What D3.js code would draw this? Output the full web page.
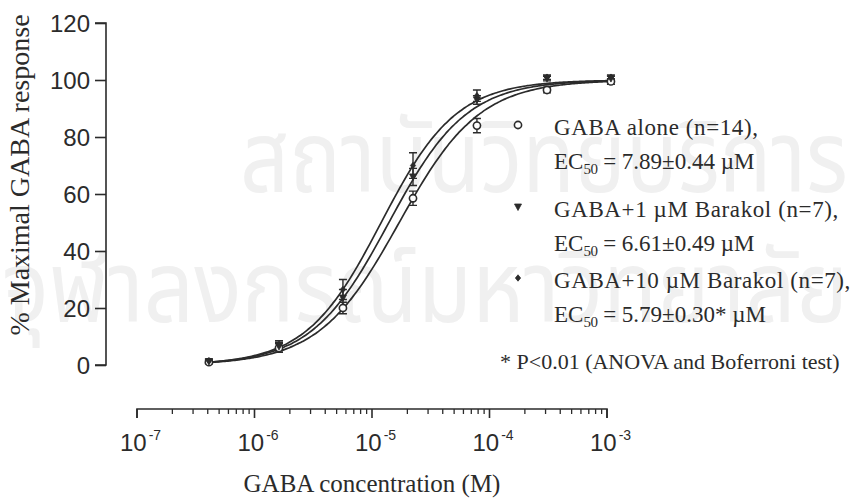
<!DOCTYPE html>
<html>
<head>
<meta charset="utf-8">
<script src="https://cdn.jsdelivr.net/npm/d3@7"></script>
<style>
  html, body { margin: 0; padding: 0; background: #ffffff; }
  svg { display: block; }
</style>
</head>
<body>
<svg id="chart" width="853" height="499"></svg>
<script>
// GABA concentrations tested (M)
const concentrations = [3e-7, 1e-6, 3e-6, 1e-5, 3e-5, 1e-4, 3e-4];

// Mean % maximal GABA response and SEM for each group
const gabaAlone      = [1.0, 6.0, 20.0, 58.5, 84.0, 96.5, 99.5];
const gabaAloneSem   = [0.6, 1.5, 2.0, 2.5, 2.5, 1.0, 1.0];
const barakol1       = [1.2, 6.5, 23.5, 66.0, 93.0, 100.5, 100.5];
const barakol1Sem    = [0.6, 1.5, 3.0, 3.0, 1.5, 0.8, 0.8];
const barakol10      = [1.5, 7.0, 26.5, 70.0, 94.5, 101.0, 101.0];
const barakol10Sem   = [0.6, 1.5, 3.5, 4.5, 2.0, 0.8, 0.8];

// Fitted concentration-response parameters (EC50 in µM)
const ec50Values  = [7.89, 6.61, 5.79];
const hillSlopes  = [1.45, 1.50, 1.55];

// Axis ticks
const yTicks = [0, 20, 40, 60, 80, 100, 120];
const xTickExponents = [-7, -6, -5, -4, -3];

// Legend entries
const legendNames = ["GABA alone (n=14),", "GABA+1 µM Barakol (n=7),", "GABA+10 µM Barakol (n=7),"];
const legendEc50  = ["7.89±0.44 µM", "6.61±0.49 µM", "5.79±0.30* µM"];
const footnote = "* P<0.01 (ANOVA and Boferroni test)";

const ink = "#2b2b2b";
const serif = "'Liberation Serif', 'Times New Roman', serif";
const sans = "'Liberation Sans', Arial, sans-serif";

const svg = d3.select("#chart");

// faint background lettering
const wm = svg.append("g").attr("fill", "#f0f0f0").attr("font-family", "'Noto Sans Thai', 'Noto Sans', sans-serif");
wm.append("text").attr("x", 240).attr("y", 192).attr("font-size", 100)
  .attr("textLength", 608).attr("lengthAdjust", "spacingAndGlyphs").text("สถาบันวิทยบริการ");
wm.append("text").attr("x", 2).attr("y", 322).attr("font-size", 100)
  .attr("textLength", 846).attr("lengthAdjust", "spacingAndGlyphs").text("จุฬาลงกรณ์มหาวิทยาลัย");

// Scales
const y = d3.scaleLinear().domain([0, 120]).range([365, 23]);
const xData = d3.scaleLog().domain([1e-7, 1e-3]).range([145, 681]);
const xAxisScale = d3.scaleLog().domain([1e-7, 1e-3]).range([137, 607]);

// Y axis
const yAxis = d3.axisLeft(y).tickValues(yTicks).tickSize(11).tickPadding(5).tickFormat(d3.format("d"));
const gy = svg.append("g").attr("transform", "translate(106,0)").call(yAxis);
gy.select(".domain").attr("stroke", ink).attr("stroke-width", 1.6).attr("d", `M-11,${y(120)}H0V${y(0)}H-11`);
gy.selectAll(".tick line").attr("stroke", ink).attr("stroke-width", 1.6);
gy.selectAll(".tick text").attr("fill", ink).attr("font-family", sans).attr("font-size", 24).attr("dy", "0.36em");

// X axis (log, with minor ticks)
const minorTicks = [];
for (let e = -7; e < -3; e++) for (let m = 2; m <= 9; m++) minorTicks.push(m * Math.pow(10, e));
const gx = svg.append("g").attr("transform", "translate(0,409)");
gx.append("path")
  .attr("d", `M${xAxisScale(1e-7)},9V0H${xAxisScale(1e-3)}V9`)
  .attr("fill", "none").attr("stroke", ink).attr("stroke-width", 1.6);
gx.selectAll("line.minor").data(minorTicks).join("line").attr("class", "minor")
  .attr("x1", d => xAxisScale(d)).attr("x2", d => xAxisScale(d))
  .attr("y1", 0).attr("y2", 5).attr("stroke", ink).attr("stroke-width", 1.3);
gx.selectAll("line.major").data(xTickExponents).join("line").attr("class", "major")
  .attr("x1", d => xAxisScale(Math.pow(10, d))).attr("x2", d => xAxisScale(Math.pow(10, d)))
  .attr("y1", 0).attr("y2", 9).attr("stroke", ink).attr("stroke-width", 1.6);
const xl = gx.selectAll("text.tick").data(xTickExponents).join("text").attr("class", "tick")
  .attr("x", d => xAxisScale(Math.pow(10, d)) - 17).attr("y", 42)
  .attr("fill", ink).attr("font-family", sans).attr("font-size", 24);
xl.append("tspan").text("10");
xl.append("tspan").attr("dy", -11).attr("dx", 2).attr("font-size", 14).text(d => d);

// Axis titles
svg.append("text").attr("x", 372).attr("y", 492).attr("text-anchor", "middle")
  .attr("font-family", serif).attr("font-size", 25).attr("fill", ink).text("GABA concentration (M)");
svg.append("text").attr("transform", "translate(29,175) rotate(-90)").attr("text-anchor", "middle")
  .attr("font-family", serif).attr("font-size", 28).attr("fill", ink).text("% Maximal GABA response");

// Fitted curves
const groups = [
  { values: gabaAlone, sem: gabaAloneSem, ec50: ec50Values[0], hill: hillSlopes[0], marker: "circle" },
  { values: barakol1, sem: barakol1Sem, ec50: ec50Values[1], hill: hillSlopes[1], marker: "triangle" },
  { values: barakol10, sem: barakol10Sem, ec50: ec50Values[2], hill: hillSlopes[2], marker: "diamond" }
];
const logMin = Math.log10(concentrations[0]), logMax = Math.log10(concentrations[concentrations.length - 1]);
const curveX = d3.range(0, 161).map(i => Math.pow(10, logMin + i * (logMax - logMin) / 160));
const line = d3.line().x(d => xData(d[0])).y(d => y(d[1])).curve(d3.curveBasis);
groups.forEach(g => {
  const pts = curveX.map(c => [c, 100 / (1 + Math.pow((g.ec50 * 1e-6) / c, g.hill))]);
  svg.append("path").attr("d", line(pts)).attr("fill", "none").attr("stroke", ink).attr("stroke-width", 1.7);
});

// Error bars and markers
const markerPath = {
  triangle: "M-3.5,-3L3.5,-3L0,3.5Z",
  diamond: "M0,-3.2L2.6,0L0,3.2L-2.6,0Z"
};
function drawMarker(sel, type, cx, cy) {
  if (type === "circle") {
    sel.append("circle").attr("cx", cx).attr("cy", cy).attr("r", 3.6)
      .attr("fill", "#fff").attr("stroke", ink).attr("stroke-width", 1.6);
  } else {
    sel.append("path").attr("d", markerPath[type]).attr("transform", `translate(${cx},${cy})`)
      .attr("fill", ink).attr("stroke", ink).attr("stroke-width", 0.8);
  }
}
const pg = svg.append("g");
groups.forEach(g => {
  concentrations.forEach((c, i) => {
    const cx = xData(c);
    const top = y(g.values[i] + g.sem[i]), bot = y(g.values[i] - g.sem[i]);
    pg.append("path").attr("d", `M${cx},${top}V${bot}M${cx - 4},${top}H${cx + 4}M${cx - 4},${bot}H${cx + 4}`)
      .attr("fill", "none").attr("stroke", ink).attr("stroke-width", 1.4);
  });
});
groups.forEach(g => {
  concentrations.forEach((c, i) => drawMarker(pg, g.marker, xData(c), y(g.values[i])));
});

// Legend
const lg = svg.append("g").attr("font-family", serif).attr("font-size", 23).attr("fill", ink);
const legendRows = [128, 210, 281];
groups.forEach((g, i) => {
  drawMarker(lg, g.marker, 518, legendRows[i] - 3);
  lg.append("text").attr("x", 554).attr("y", legendRows[i] + 7).attr("letter-spacing", 0.6).text(legendNames[i]);
  const t = lg.append("text").attr("x", 554).attr("y", legendRows[i] + 41);
  t.append("tspan").text("EC");
  t.append("tspan").attr("font-size", 15).attr("dy", 5).attr("letter-spacing", -0.5).text("50");
  t.append("tspan").attr("dy", -5).text(" = " + legendEc50[i]);
});
lg.append("text").attr("x", 500).attr("y", 369).attr("font-size", 22).text(footnote);
</script>
</body>
</html>
